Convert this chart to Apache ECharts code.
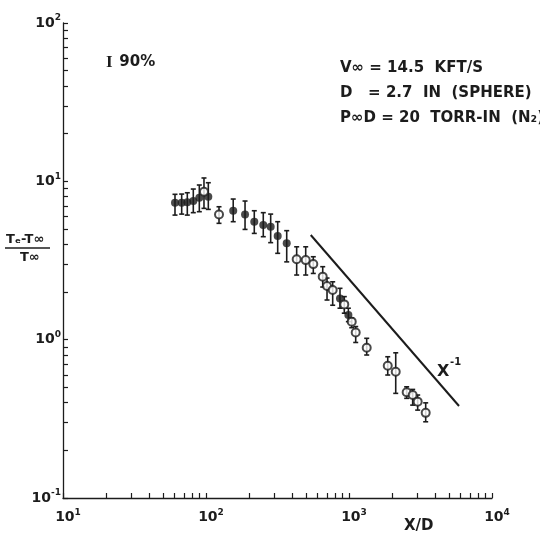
<!DOCTYPE html>
<html>
<head>
<meta charset="utf-8">
<script src="https://cdn.jsdelivr.net/npm/echarts@6/dist/echarts.min.js"></script>
<style>
html, body { margin: 0; background: #fff; }
#chart { width: 540px; height: 536px; }
</style>
</head>
<body>
<div id="chart"></div>
<script>
const xOverD = [60.7, 67.6, 74.0, 81.5, 89.8, 96.8, 103.8, 123.3,
  155, 187.5, 217.6, 251.5, 283.3, 317.2, 366.8, 430.6, 498, 562.7,
  655, 702, 769, 865, 927, 990, 1045, 1114, 1330,
  1866, 2122, 2531, 2788, 3022, 3438];
const tempRatio = [7.32, 7.32, 7.37, 7.51, 7.88, 8.60, 8.0, 6.18,
  6.52, 6.18, 5.56, 5.30, 5.17, 4.51, 4.06, 3.22, 3.18, 3.00,
  2.50, 2.18, 2.06, 1.82, 1.67, 1.43, 1.30, 1.11, 0.889,
  0.684, 0.627, 0.465, 0.447, 0.406, 0.345];
const errLow = [6.12, 6.21, 6.12, 6.34, 6.43, 6.75, 6.65, 5.43,
  5.56, 4.97, 4.69, 4.47, 4.10, 3.51, 3.10, 2.56, 2.56, 2.62,
  2.15, 1.78, 1.65, 1.58, 1.47, 1.30, 1.19, 0.96, 0.80,
  0.598, 0.458, 0.426, 0.386, 0.359, 0.303];
const errHigh = [8.28, 8.31, 8.47, 8.94, 9.48, 10.5, 9.8, 6.91,
  7.73, 7.51, 6.52, 6.34, 6.21, 5.56, 4.88, 3.86, 3.86, 3.34,
  2.89, 2.45, 2.32, 2.11, 1.87, 1.58, 1.37, 1.21, 1.02,
  0.780, 0.826, 0.504, 0.485, 0.447, 0.399];
// 1 = open circle, 0 = filled
const openMarker = [0, 0, 0, 0, 0, 1, 0, 1,
  0, 0, 0, 0, 0, 0, 0, 1, 1, 1,
  1, 1, 1, 0, 1, 0, 1, 1, 1,
  1, 1, 1, 1, 1, 1];

// X^-1 reference line
const slopeLine = [[540, 4.58], [5880, 0.381]];

const xTickLabels = ['1', '2', '3', '4'];     // exponents of 10
const yTickLabels = ['-1', '0', '1', '2'];

const ink = '#1c1c1c';
const font = 'DejaVu Sans';

// ticks at 1..9 x each decade
function logTicks(from, decades) {
  const out = [];
  for (let d = 0; d < decades; d++) {
    const base = from * Math.pow(10, d);
    for (let m = 1; m <= 9; m++) out.push(base * m);
  }
  out.push(from * Math.pow(10, decades));
  return out;
}

const filled = [], open = [], bars = [];
for (let i = 0; i < xOverD.length; i++) {
  const p = [xOverD[i], tempRatio[i]];
  (openMarker[i] ? open : filled).push(p);
  bars.push([xOverD[i], errLow[i], errHigh[i]]);
}

const rich = {
  b: { fontFamily: font, fontWeight: 'bold', fontSize: 14, color: ink, lineHeight: 19 },
  s: { fontFamily: font, fontWeight: 'bold', fontSize: 9, color: ink, lineHeight: 11, verticalAlign: 'top' }
};

const chart = echarts.init(document.getElementById('chart'));
chart.setOption({
  backgroundColor: '#fff',
  animation: false,
  grid: { left: 63, right: 48, top: 23, bottom: 38 },
  xAxis: {
    type: 'log', min: 10, max: 10000, logBase: 10,
    axisLine: { lineStyle: { color: ink, width: 1.3 } },
    axisTick: { inside: true, length: 5, lineStyle: { color: ink, width: 1.2 }, customValues: logTicks(10, 3) },
    axisLabel: {
      margin: 10, padding: [0, 0, 0, 10],
      formatter: v => '{b|10}{s|' + xTickLabels[Math.round(Math.log10(v)) - 1] + '}',
      rich: rich
    },
    splitLine: { show: false }
  },
  yAxis: {
    type: 'log', min: 0.1, max: 100, logBase: 10,
    axisLine: { lineStyle: { color: ink, width: 1.3 } },
    axisTick: { inside: true, length: 5, lineStyle: { color: ink, width: 1.2 }, customValues: logTicks(0.1, 3) },
    axisLabel: {
      margin: 2,
      formatter: v => '{b|10}{s|' + yTickLabels[Math.round(Math.log10(v)) + 1] + '}',
      rich: rich
    },
    splitLine: { show: false }
  },
  series: [
    {
      type: 'custom',
      data: bars,
      encode: { x: 0, y: [1, 2] },
      z: 2,
      renderItem: function (params, api) {
        const lo = api.coord([api.value(0), api.value(1)]);
        const hi = api.coord([api.value(0), api.value(2)]);
        const w = 2.5;
        const st = { stroke: ink, lineWidth: 1.6 };
        return {
          type: 'group',
          children: [
            { type: 'line', shape: { x1: lo[0], y1: lo[1], x2: hi[0], y2: hi[1] }, style: st },
            { type: 'line', shape: { x1: lo[0] - w, y1: lo[1], x2: lo[0] + w, y2: lo[1] }, style: st },
            { type: 'line', shape: { x1: hi[0] - w, y1: hi[1], x2: hi[0] + w, y2: hi[1] }, style: st }
          ]
        };
      }
    },
    {
      type: 'scatter', data: filled, symbol: 'circle', symbolSize: 8, z: 3,
      itemStyle: { color: ink }
    },
    {
      type: 'scatter', data: open, symbol: 'circle', symbolSize: 8, z: 3,
      itemStyle: { color: '#fff', borderColor: ink, borderWidth: 2 }
    },
    {
      type: 'line', data: slopeLine, symbol: 'none', z: 1,
      lineStyle: { color: ink, width: 2 }
    }
  ],
  graphic: [
    { type: 'text', left: 106, top: 54,
      style: { text: '{i|I}  {t|90%}', rich: {
        i: { fontFamily: 'Liberation Serif', fontWeight: 'bold', fontSize: 17, fill: ink },
        t: { fontFamily: font, fontWeight: 'bold', fontSize: 15, fill: ink } } } },
    { type: 'text', left: 340, top: 61,
      style: { text: 'V∞ = 14.5  KFT/S', font: 'bold 15px "DejaVu Sans"', fill: ink } },
    { type: 'text', left: 340, top: 86,
      style: { text: 'D   = 2.7  IN  (SPHERE)', font: 'bold 15px "DejaVu Sans"', fill: ink } },
    { type: 'text', left: 340, top: 111,
      style: { text: 'P∞D = 20  TORR-IN  (N₂)', font: 'bold 15px "DejaVu Sans"', fill: ink } },
    { type: 'text', left: 437, top: 364,
      style: { text: 'X', font: 'bold 16px "DejaVu Sans"', fill: ink } },
    { type: 'text', left: 450, top: 357,
      style: { text: '-1', font: 'bold 10px "DejaVu Sans"', fill: ink } },
    { type: 'text', left: 404, top: 519,
      style: { text: 'X/D', font: 'bold 15px "DejaVu Sans"', fill: ink } },
    { type: 'text', left: 6, top: 233,
      style: { text: 'Tₑ-T∞', font: 'bold 13px "DejaVu Sans"', fill: ink } },
    { type: 'line', shape: { x1: 5, y1: 248, x2: 50, y2: 248 },
      style: { stroke: ink, lineWidth: 1.5 } },
    { type: 'text', left: 20, top: 251,
      style: { text: 'T∞', font: 'bold 13px "DejaVu Sans"', fill: ink } }
  ]
});
</script>
</body>
</html>
